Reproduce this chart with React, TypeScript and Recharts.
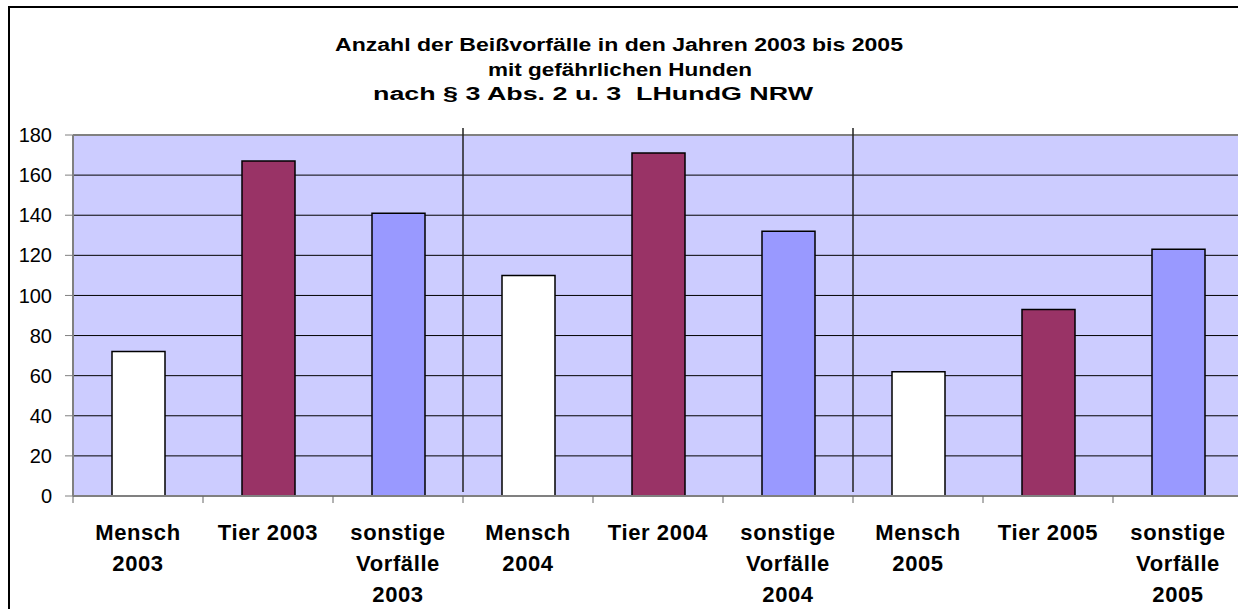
import { BarChart, Bar, Cell, XAxis, YAxis, CartesianGrid, ReferenceLine } from 'recharts';

const FONT = '"Liberation Sans", Arial, sans-serif';

// data
const categories = [
    'Mensch\n2003', 'Tier 2003', 'sonstige\nVorfälle\n2003',
    'Mensch\n2004', 'Tier 2004', 'sonstige\nVorfälle\n2004',
    'Mensch\n2005', 'Tier 2005', 'sonstige\nVorfälle\n2005',
];
const values = [72, 167, 141, 110, 171, 132, 62, 93, 123];
const barColors = [
    '#FFFFFF', '#993366', '#9999FF',
    '#FFFFFF', '#993366', '#9999FF',
    '#FFFFFF', '#993366', '#9999FF',
];
const yTicks = [0, 20, 40, 60, 80, 100, 120, 140, 160, 180];
const titleLines = [
    'Anzahl der Beißvorfälle in den Jahren 2003 bis 2005',
    'mit gefährlichen Hunden',
    'nach § 3 Abs. 2 u. 3  LHundG NRW',
];
// a new year starts at these categories
const yearStarts = [categories[3], categories[6]];

const data = categories.map((name, i) => ({ name, value: values[i] }));

// the title in the original is stretched sideways, so each line gets its own length
const titleLayout = [
    { x: 335, y: 51, len: 568 },
    { x: 488, y: 76, len: 264 },
    { x: 373, y: 100, len: 440 },
];

function CategoryTick({ x, y, payload, index }: any) {
    const lines = String(payload.value).split('\n');
    const half = payload.offset || 65;
    return (
        <g>
            {/* excel puts the tick marks between the categories */}
            <line x1={x - half} x2={x - half} y1={y} y2={y + 7} stroke="#666" />
            {index === categories.length - 1 && (
                <line x1={x + half} x2={x + half} y1={y} y2={y + 7} stroke="#666" />
            )}
            <text
                x={x}
                y={y + 43.5}
                textAnchor="middle"
                fontFamily={FONT}
                fontSize={22}
                fontWeight="bold"
                fill="#000"
                letterSpacing={0.6}
            >
                {lines.map((l, i) => (
                    <tspan key={i} x={x} dy={i === 0 ? 0 : 31}>{l}</tspan>
                ))}
            </text>
        </g>
    );
}

export default function App() {
    return (
        <div
            style={{
                position: 'fixed', left: 0, top: 0, width: 1238, height: 609,
                overflow: 'hidden', background: '#fff', fontFamily: FONT,
            }}
        >
            <div style={{ position: 'absolute', left: 0, top: 0 }}>
                <BarChart
                    width={1300}
                    height={640}
                    data={data}
                    margin={{ top: 135, right: 57, left: 0, bottom: 34 }}
                >
                    <CartesianGrid vertical={false} stroke="#000" fill="#CCCCFF" fillOpacity={1} />
                    <XAxis
                        dataKey="name"
                        interval={0}
                        height={110}
                        tickLine={false}
                        tickSize={0}
                        tickMargin={0}
                        tick={<CategoryTick />}
                        axisLine={{ stroke: '#808080', strokeWidth: 2 }}
                    />
                    <YAxis
                        domain={[0, 180]}
                        ticks={yTicks}
                        interval={0}
                        width={73}
                        tickSize={8}
                        tickMargin={13}
                        tick={{ fontSize: 20, fill: '#000', fontFamily: FONT }}
                        axisLine={{ stroke: '#808080', strokeWidth: 2 }}
                        tickLine={{ stroke: '#808080' }}
                    />
                    <ReferenceLine y={180} stroke="#808080" strokeWidth={2} />
                    <Bar dataKey="value" barSize={53} stroke="#000" strokeWidth={1.5} isAnimationActive={false}>
                        {data.map((d, i) => (
                            <Cell key={d.name} fill={barColors[i]} />
                        ))}
                    </Bar>
                    {yearStarts.map((c) => (
                        <ReferenceLine
                            key={c}
                            position="start"
                            segment={[{ x: c, y: 183.5 }, { x: c, y: 2 }]}
                            stroke="#222"
                            strokeWidth={1.5}
                            ifOverflow="visible"
                        />
                    ))}
                </BarChart>
            </div>
            <svg width={1238} height={120} style={{ position: 'absolute', left: 0, top: 0 }}>
                {titleLines.map((t, i) => (
                    <text
                        key={i}
                        x={titleLayout[i].x}
                        y={titleLayout[i].y}
                        textLength={titleLayout[i].len}
                        lengthAdjust="spacingAndGlyphs"
                        fontFamily={FONT}
                        fontSize={18}
                        fontWeight="bold"
                        fill="#000"
                        style={{ whiteSpace: 'pre' }}
                    >
                        {t}
                    </text>
                ))}
            </svg>
            <div
                style={{
                    position: 'absolute', left: 8, top: 6, width: 1300, height: 700,
                    border: '2px solid #000', pointerEvents: 'none',
                }}
            />
        </div>
    );
}
